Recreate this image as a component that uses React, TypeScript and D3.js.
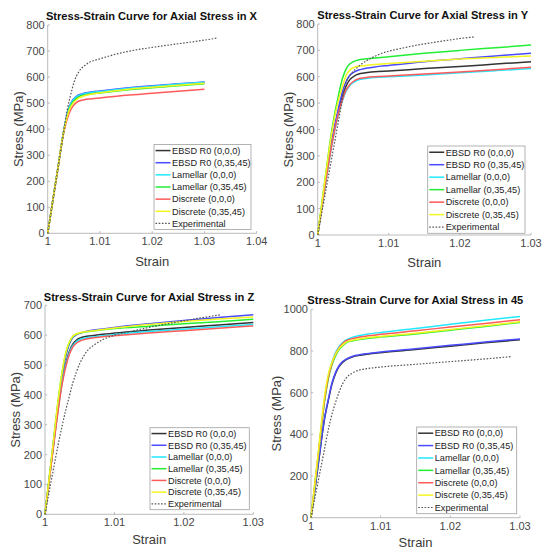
import React from "react";
import * as d3 from "d3";

// ---------- names / colours ----------
const seriesNames = [
  "EBSD R0 (0,0,0)",
  "EBSD R0 (0,35,45)",
  "Lamellar (0,0,0)",
  "Lamellar (0,35,45)",
  "Discrete (0,0,0)",
  "Discrete (0,35,45)",
  "Experimental",
];
const seriesColors = ["#333333", "#4a4aff", "#22e8ff", "#22ee33", "#ff5a5a", "#f4f422", "#555555"];

// ---------- Panel X ----------
const xStrain = [1, 1.002, 1.003, 1.004, 1.0045, 1.005, 1.0055, 1.006, 1.007, 1.008, 1.01, 1.015, 1.02, 1.025, 1.03];
const xBlack = [0, 256, 384, 472, 497, 512, 521, 528, 535, 539, 544, 555, 564, 572, 579];
const xBlue = [0, 258, 387, 478, 503, 517, 526, 532, 538, 542, 547, 558, 567, 574, 581];
const xCyan = [0, 257, 386, 476, 501, 515, 524, 530, 536, 540, 545, 556, 565, 573, 580];
const xGreen = [0, 256, 384, 470, 494, 508, 517, 524, 530, 534, 539, 550, 559, 567, 574];
const xRed = [0, 254, 380, 455, 478, 493, 502, 508, 513, 516, 520, 530, 538, 546, 553];
const xYellow = [0, 258, 385, 466, 489, 503, 513, 520, 528, 533, 540, 552, 561, 569, 576];
const xExpStrain = [1, 1.002, 1.003, 1.004, 1.0045, 1.005, 1.0055, 1.006, 1.007, 1.008, 1.01, 1.0125, 1.015, 1.02, 1.025, 1.03, 1.0325];
const xExp = [0, 256, 384, 500, 540, 578, 603, 622, 643, 657, 670, 685, 697, 714, 728, 742, 750];

// ---------- Panel Y ----------
const yStrain = [1, 1.001, 1.002, 1.003, 1.0035, 1.004, 1.0045, 1.005, 1.0055, 1.006, 1.007, 1.008, 1.01, 1.015, 1.02, 1.025, 1.03];
const yBlack = [0, 185, 355, 480, 530, 565, 588, 600, 608, 612, 616, 619, 622, 631, 639, 648, 657];
const yBlue = [0, 190, 360, 490, 545, 582, 605, 616, 623, 627, 633, 637, 643, 657, 668, 679, 689];
const yCyan = [0, 178, 342, 466, 511, 545, 566, 578, 586, 590, 594, 597, 600, 607, 615, 623, 631];
const yGreen = [0, 205, 400, 540, 595, 630, 648, 657, 662, 665, 668, 671, 676, 689, 700, 710, 720];
const yRed = [0, 180, 345, 470, 515, 550, 570, 582, 590, 594, 598, 600, 603, 610, 618, 627, 636];
const yYellow = [0, 205, 390, 520, 565, 605, 625, 634, 639, 641, 644, 646, 650, 659, 667, 673, 679];
const yExpStrain = [1, 1.001, 1.002, 1.003, 1.0035, 1.004, 1.0045, 1.005, 1.0055, 1.006, 1.007, 1.008, 1.009, 1.01, 1.012, 1.014, 1.016, 1.018, 1.02, 1.022];
const yExp = [0, 148, 296, 444, 518, 580, 603, 620, 633, 645, 663, 677, 689, 697, 709, 720, 729, 737, 745, 751];

// ---------- Panel Z ----------
const zStrain = [1, 1.001, 1.002, 1.0025, 1.003, 1.0035, 1.004, 1.0045, 1.005, 1.006, 1.007, 1.008, 1.01, 1.015, 1.02, 1.025, 1.03];
const zBlack = [0, 190, 375, 450, 505, 545, 570, 583, 590, 596, 599, 602, 607, 617, 626, 634, 642];
const zBlue = [0, 198, 390, 470, 530, 570, 592, 601, 606, 613, 617, 620, 626, 638, 649, 659, 668];
const zCyan = [0, 190, 370, 445, 500, 540, 565, 578, 585, 591, 594, 597, 602, 612, 620, 628, 636];
const zGreen = [0, 200, 400, 480, 540, 575, 595, 603, 607, 611, 614, 617, 622, 630, 638, 645, 653];
const zRed = [0, 185, 365, 440, 495, 535, 560, 573, 580, 587, 591, 594, 598, 607, 615, 623, 631];
const zYellow = [0, 202, 402, 482, 542, 577, 596, 604, 608, 612, 615, 618, 624, 636, 646, 654, 661];
const zExpStrain = [1, 1.001, 1.002, 1.003, 1.0035, 1.004, 1.0045, 1.005, 1.0055, 1.006, 1.007, 1.008, 1.009, 1.01, 1.0125, 1.015, 1.02, 1.0254];
const zExp = [0, 125, 245, 350, 395, 440, 475, 505, 527, 545, 566, 581, 592, 600, 613, 626, 648, 669];

// ---------- Panel 45 ----------
const fStrain = [1, 1.001, 1.002, 1.0025, 1.003, 1.0035, 1.004, 1.0045, 1.005, 1.006, 1.007, 1.008, 1.01, 1.015, 1.02, 1.025, 1.03];
const fBlack = [0, 245, 485, 565, 640, 690, 724, 744, 757, 772, 779, 784, 792, 807, 823, 839, 854];
const fBlue = [0, 250, 490, 570, 645, 695, 728, 748, 760, 775, 782, 787, 795, 811, 827, 843, 858];
const fCyan = [0, 290, 580, 680, 745, 790, 820, 838, 852, 866, 874, 880, 889, 908, 928, 947, 966];
const fGreen = [0, 285, 570, 668, 732, 775, 805, 824, 838, 849, 855, 860, 867, 882, 900, 918, 937];
const fRed = [0, 290, 578, 676, 740, 784, 814, 834, 848, 860, 867, 872, 880, 897, 915, 932, 950];
const fYellow = [0, 300, 595, 690, 745, 783, 810, 828, 841, 852, 858, 863, 870, 885, 903, 921, 940];
const fExpStrain = [1, 1.001, 1.002, 1.0025, 1.003, 1.0035, 1.004, 1.0045, 1.005, 1.006, 1.007, 1.008, 1.01, 1.015, 1.02, 1.025, 1.0288];
const fExp = [0, 170, 340, 425, 495, 550, 600, 640, 668, 695, 709, 715, 723, 736, 749, 762, 773];

// ---------- ticks ----------
const xTicks4 = [1, 1.01, 1.02, 1.03, 1.04];
const xTicks3 = [1, 1.01, 1.02, 1.03];
const yTicks800 = [0, 100, 200, 300, 400, 500, 600, 700, 800];
const yTicks700 = [0, 100, 200, 300, 400, 500, 600, 700];
const yTicks1000 = [0, 200, 400, 600, 800, 1000];

type Panel = {
  title: string;
  strain: number[];
  series: number[][];
  expStrain: number[];
  exp: number[];
  xDomain: [number, number];
  xTicks: number[];
  yDomain: [number, number];
  yTicks: number[];
  xr: [number, number];
  yr: [number, number];
  titleX: number;
  titleY: number;
  legend: { l: number; t: number; r: number; b: number };
  yLabelX: number;
  xLabelY: number;
};

const panels: Panel[] = [
  {
    title: "Stress-Strain Curve for Axial Stress in X",
    strain: xStrain,
    series: [xBlack, xBlue, xCyan, xGreen, xRed, xYellow],
    expStrain: xExpStrain,
    exp: xExp,
    xDomain: [1, 1.04],
    xTicks: xTicks4,
    yDomain: [0, 800],
    yTicks: yTicks800,
    xr: [47.7, 256.7],
    yr: [233.3, 25],
    titleX: 151.5,
    titleY: 20.3,
    legend: { l: 154, t: 144.5, r: 251, b: 229.5 },
    yLabelX: 23,
    xLabelY: 265.5,
  },
  {
    title: "Stress-Strain Curve for Axial Stress in Y",
    strain: yStrain,
    series: [yBlack, yBlue, yCyan, yGreen, yRed, yYellow],
    expStrain: yExpStrain,
    exp: yExp,
    xDomain: [1, 1.03],
    xTicks: xTicks3,
    yDomain: [0, 800],
    yTicks: yTicks800,
    xr: [317.7, 531],
    yr: [235, 24],
    titleX: 422.7,
    titleY: 19.2,
    legend: { l: 427.7, t: 146, r: 525, b: 233.3 },
    yLabelX: 293,
    xLabelY: 266.5,
  },
  {
    title: "Stress-Strain Curve for Axial Stress in Z",
    strain: zStrain,
    series: [zBlack, zBlue, zCyan, zGreen, zRed, zYellow],
    expStrain: zExpStrain,
    exp: zExp,
    xDomain: [1, 1.03],
    xTicks: xTicks3,
    yDomain: [0, 700],
    yTicks: yTicks700,
    xr: [45, 253.3],
    yr: [514.3, 305.3],
    titleX: 149,
    titleY: 300.8,
    legend: { l: 150, t: 427.7, r: 249.3, b: 509.7 },
    yLabelX: 19.5,
    xLabelY: 543.5,
  },
  {
    title: "Stress-Strain Curve for Axial Stress in 45",
    strain: fStrain,
    series: [fBlack, fBlue, fCyan, fGreen, fRed, fYellow],
    expStrain: fExpStrain,
    exp: fExp,
    xDomain: [1, 1.03],
    xTicks: xTicks3,
    yDomain: [0, 1000],
    yTicks: yTicks1000,
    xr: [311, 520],
    yr: [517.7, 309.3],
    titleX: 415.3,
    titleY: 304.3,
    legend: { l: 416.7, t: 427, r: 516.7, b: 513.7 },
    yLabelX: 281,
    xLabelY: 547,
  },
];

const FONT = "Arial, 'Liberation Sans', Helvetica, sans-serif";

function fmtStrain(v: number) {
  return String(+v.toFixed(2));
}

function PanelView({ p }: { p: Panel }) {
  const x = d3.scaleLinear().domain(p.xDomain).range(p.xr);
  const y = d3.scaleLinear().domain(p.yDomain).range(p.yr);
  const line = d3
    .line<[number, number]>()
    .x((d) => x(d[0]))
    .y((d) => y(d[1]))
    .curve(d3.curveMonotoneX);

  const allSeries = p.series.map((vals) => vals.map((v, i) => [p.strain[i], v] as [number, number]));
  const expPts = p.exp.map((v, i) => [p.expStrain[i], v] as [number, number]);

  const { l, t, r, b } = p.legend;
  const rowH = (b - t) / 7;
  const axisColor = "#b3b3b3";
  const tickText = "#474747";

  return (
    <g>
      {/* axes */}
      <line x1={p.xr[0]} x2={p.xr[1]} y1={p.yr[0]} y2={p.yr[0]} stroke={axisColor} strokeWidth={0.9} />
      <line x1={p.xr[0]} x2={p.xr[0]} y1={p.yr[0]} y2={p.yr[1]} stroke={axisColor} strokeWidth={0.9} />
      {p.xTicks.map((tv) => (
        <g key={"xt" + tv}>
          <line x1={x(tv)} x2={x(tv)} y1={p.yr[0]} y2={p.yr[0] - 2.2} stroke={axisColor} strokeWidth={0.9} />
          <text x={x(tv)} y={p.yr[0] + 12} textAnchor="middle" fontSize={11} fill={tickText} fontFamily={FONT}>
            {fmtStrain(tv)}
          </text>
        </g>
      ))}
      {p.yTicks.map((tv) => (
        <g key={"yt" + tv}>
          <line x1={p.xr[0]} x2={p.xr[0] + 2.2} y1={y(tv)} y2={y(tv)} stroke={axisColor} strokeWidth={0.9} />
          <text x={p.xr[0] - 3} y={y(tv) + 4} textAnchor="end" fontSize={11} fill={tickText} fontFamily={FONT}>
            {tv}
          </text>
        </g>
      ))}
      {/* curves */}
      {allSeries.map((pts, i) => (
        <path key={"s" + i} d={line(pts) || ""} fill="none" stroke={seriesColors[i]} strokeWidth={1.5} />
      ))}
      <path d={line(expPts) || ""} fill="none" stroke={seriesColors[6]} strokeWidth={1.2} strokeDasharray="1.6,1.6" />
      {/* labels */}
      <text x={p.titleX} y={p.titleY} textAnchor="middle" fontSize={11.1} fontWeight="bold" fill="#111" fontFamily={FONT}>
        {p.title}
      </text>
      <text
        x={(p.xr[0] + p.xr[1]) / 2}
        y={p.xLabelY}
        textAnchor="middle"
        fontSize={13}
        fill="#3a3a3a"
        fontFamily={FONT}
      >
        Strain
      </text>
      <text
        transform={`translate(${p.yLabelX},${(p.yr[0] + p.yr[1]) / 2}) rotate(-90)`}
        textAnchor="middle"
        fontSize={13}
        fill="#3a3a3a"
        fontFamily={FONT}
      >
        Stress (MPa)
      </text>
      {/* legend */}
      <rect x={l} y={t} width={r - l} height={b - t} fill="#fff" stroke="#a0a0a0" strokeWidth={0.8} />
      {seriesNames.map((name, i) => {
        const cy = t + rowH * (i + 0.5);
        return (
          <g key={"lg" + i}>
            <line
              x1={l + 1.5}
              x2={l + 16.5}
              y1={cy}
              y2={cy}
              stroke={seriesColors[i]}
              strokeWidth={i === 6 ? 1.2 : 1.5}
              strokeDasharray={i === 6 ? "1.6,1.6" : undefined}
            />
            <text x={l + 18} y={cy + 3.3} fontSize={9.2} fill="#222" fontFamily={FONT}>
              {name}
            </text>
          </g>
        );
      })}
    </g>
  );
}

export default function App() {
  return (
    <div style={{ position: "absolute", left: 0, top: 0, width: 550, height: 557, background: "#fff" }}>
      <svg width={550} height={557} viewBox="0 0 550 557">
        <rect x={0} y={0} width={550} height={557} fill="#fff" />
        {panels.map((p, i) => (
          <PanelView key={i} p={p} />
        ))}
      </svg>
    </div>
  );
}
